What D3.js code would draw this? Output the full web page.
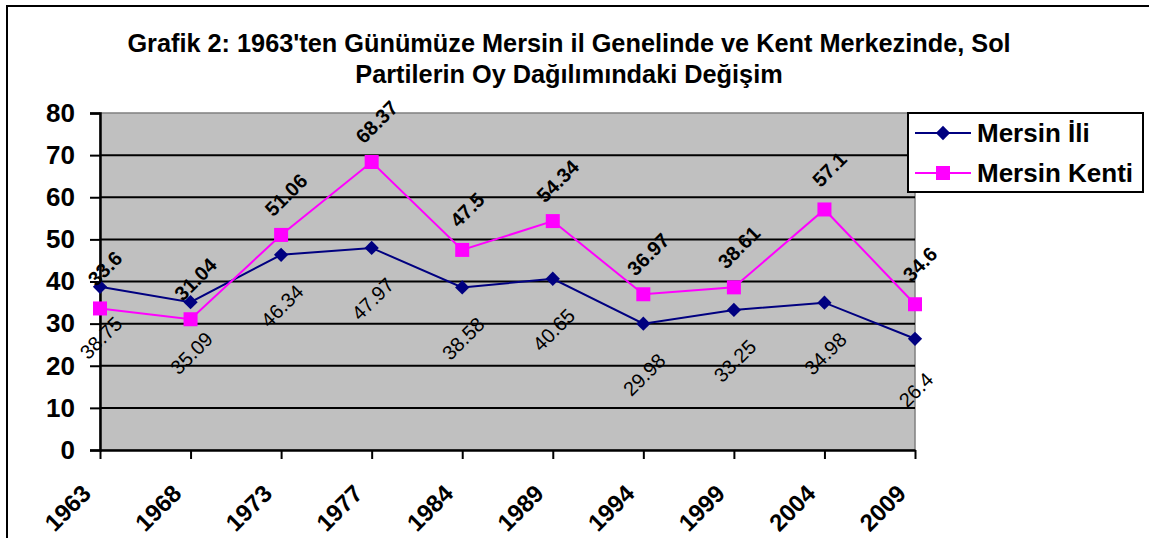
<!DOCTYPE html>
<html>
<head>
<meta charset="utf-8">
<script src="https://cdn.jsdelivr.net/npm/d3@7"></script>
<style>
  body { margin: 0; background: #fff; }
  svg { display: block; font-family: Arial, "Liberation Sans", sans-serif; }
</style>
</head>
<body>
<svg id="chart" width="1149" height="538"></svg>
<script>
// chart values
const years = ["1963", "1968", "1973", "1977", "1984", "1989", "1994", "1999", "2004", "2009"];
const mersinIli = [38.75, 35.09, 46.34, 47.97, 38.58, 40.65, 29.98, 33.25, 34.98, 26.4];
const mersinKenti = [33.6, 31.04, 51.06, 68.37, 47.5, 54.34, 36.97, 38.61, 57.1, 34.6];
const yTicks = [0, 10, 20, 30, 40, 50, 60, 70, 80];
const titleLines = ["Grafik 2: 1963'ten Günümüze Mersin il Genelinde ve Kent Merkezinde, Sol",
                    "Partilerin Oy Dağılımındaki Değişim"];

const svg = d3.select("#chart");

// outer frame (only left and top edges visible in the picture)
svg.append("rect")
    .attr("x", 7).attr("y", 6)
    .attr("width", 1160).attr("height", 560)
    .attr("fill", "#fff")
    .attr("stroke", "#000").attr("stroke-width", 2);

// title
svg.append("g").selectAll("text")
    .data(titleLines)
    .join("text")
    .attr("x", 569)
    .attr("y", (d, i) => 52 + i * 31)
    .attr("text-anchor", "middle")
    .attr("font-weight", "bold")
    .attr("font-size", 25.3)
    .text(d => d);

const plotL = 100, plotR = 915, plotT = 113, plotB = 450;

const x = d3.scalePoint().domain(years).range([plotL, plotR]);
const y = d3.scaleLinear().domain([0, 80]).range([plotB, plotT]);

// plot area
svg.append("rect")
    .attr("x", plotL).attr("y", plotT)
    .attr("width", plotR - plotL).attr("height", plotB - plotT)
    .attr("fill", "#C0C0C0")
    .attr("stroke", "#808080").attr("stroke-width", 1.5);

// grid lines
svg.append("g").selectAll("line")
    .data(yTicks.filter(t => t > 0 && t < 80))
    .join("line")
    .attr("x1", plotL).attr("x2", plotR)
    .attr("y1", d => y(d)).attr("y2", d => y(d))
    .attr("stroke", "#000").attr("stroke-width", 2);

// y axis
const yAxis = svg.append("g")
    .attr("transform", `translate(${plotL},0)`)
    .call(d3.axisLeft(y).tickValues(yTicks).tickSize(10).tickPadding(15).tickFormat(d3.format("d")));
yAxis.select(".domain").attr("stroke", "#000").attr("stroke-width", 2.5);
yAxis.selectAll(".tick line").attr("stroke", "#000").attr("stroke-width", 2);
yAxis.selectAll(".tick text")
    .attr("font-family", "Arial, 'Liberation Sans', sans-serif")
    .attr("font-size", 26).attr("font-weight", "bold").attr("fill", "#000");

// x axis
const xAxis = svg.append("g")
    .attr("transform", `translate(0,${plotB})`)
    .call(d3.axisBottom(x).tickSize(9).tickSizeOuter(0));
xAxis.select(".domain").attr("stroke", "#000").attr("stroke-width", 2.5);
xAxis.selectAll(".tick line").attr("stroke", "#000").attr("stroke-width", 2);
xAxis.selectAll(".tick text")
    .attr("font-family", "Arial, 'Liberation Sans', sans-serif")
    .attr("font-size", 24).attr("font-weight", "bold").attr("fill", "#000")
    .attr("text-anchor", "end")
    .attr("dy", null)
    .attr("y", 0)
    .attr("transform", "translate(-8,45) rotate(-45)");

const line = d3.line().x((d, i) => x(years[i])).y(d => y(d));

// Mersin İli (navy, diamonds)
svg.append("path").datum(mersinIli)
    .attr("d", line).attr("fill", "none")
    .attr("stroke", "#000080").attr("stroke-width", 2);
svg.append("g").selectAll("path")
    .data(mersinIli)
    .join("path")
    .attr("d", d3.symbol(d3.symbolDiamond2, 130))
    .attr("transform", (d, i) => `translate(${x(years[i])},${y(d)})`)
    .attr("fill", "#000080");

// Mersin Kenti (magenta, squares)
svg.append("path").datum(mersinKenti)
    .attr("d", line).attr("fill", "none")
    .attr("stroke", "#FF00FF").attr("stroke-width", 2);
svg.append("g").selectAll("rect")
    .data(mersinKenti)
    .join("rect")
    .attr("x", (d, i) => x(years[i]) - 7)
    .attr("y", d => y(d) - 7)
    .attr("width", 14).attr("height", 14)
    .attr("fill", "#FF00FF");

// data labels
svg.append("g").selectAll("text")
    .data(mersinIli)
    .join("text")
    .attr("transform", (d, i) => `translate(${x(years[i]) + 1},${y(d) + 51}) rotate(-45)`)
    .attr("text-anchor", "middle")
    .attr("dominant-baseline", "central")
    .attr("font-size", 20)
    .text(d => d);

svg.append("g").selectAll("text")
    .data(mersinKenti)
    .join("text")
    .attr("transform", (d, i) => `translate(${x(years[i]) + 5},${y(d) - 40}) rotate(-45)`)
    .attr("text-anchor", "middle")
    .attr("dominant-baseline", "central")
    .attr("font-size", 20)
    .attr("font-weight", "bold")
    .text(d => d);

// legend
const legend = svg.append("g");
legend.append("rect")
    .attr("x", 908).attr("y", 113)
    .attr("width", 235).attr("height", 79)
    .attr("fill", "#fff")
    .attr("stroke", "#000").attr("stroke-width", 2);

const legendItems = [
    { name: "Mersin İli", color: "#000080", shape: "diamond" },
    { name: "Mersin Kenti", color: "#FF00FF", shape: "square" }
];
legendItems.forEach((item, i) => {
    const ly = 133 + i * 40;
    legend.append("line")
        .attr("x1", 915).attr("x2", 971)
        .attr("y1", ly).attr("y2", ly)
        .attr("stroke", item.color).attr("stroke-width", 2);
    if (item.shape === "diamond") {
        legend.append("path")
            .attr("d", d3.symbol(d3.symbolDiamond2, 130))
            .attr("transform", `translate(943,${ly})`)
            .attr("fill", item.color);
    } else {
        legend.append("rect")
            .attr("x", 936).attr("y", ly - 7)
            .attr("width", 14).attr("height", 14)
            .attr("fill", item.color);
    }
    legend.append("text")
        .attr("x", 977).attr("y", ly)
        .attr("dominant-baseline", "central")
        .attr("font-size", 26).attr("font-weight", "bold")
        .text(item.name);
});
</script>
</body>
</html>
